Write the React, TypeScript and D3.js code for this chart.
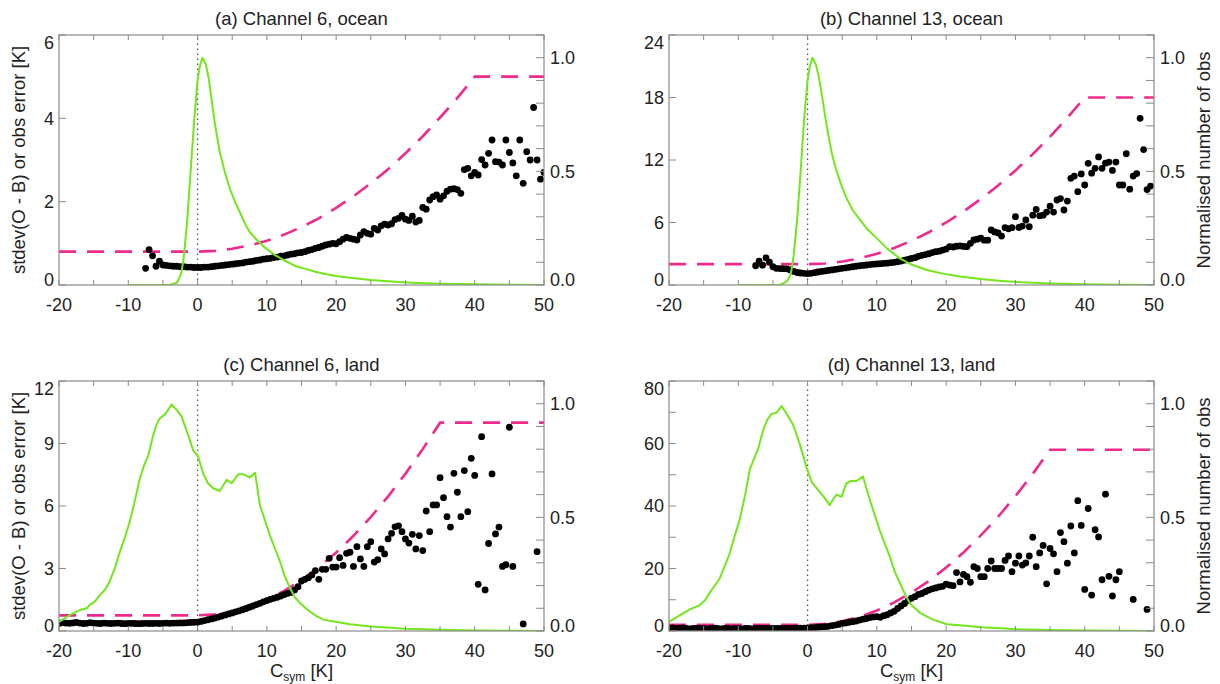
import React from 'react';
import * as d3 from 'd3';

// ---------- Data ----------
const xMajorTicks = [-20, -10, 0, 10, 20, 30, 40, 50];
const xMinorTicks = [-20, -15, -10, -5, 0, 5, 10, 15, 20, 25, 30, 35, 40, 45, 50];
const rightTicks = [0, 0.1, 0.2, 0.3, 0.4, 0.5, 0.6, 0.7, 0.8, 0.9, 1.0, 1.1];
const rightTickLabels = [0, 0.5, 1.0];

const panelTitles = ['(a) Channel 6, ocean', '(b) Channel 13, ocean', '(c) Channel 6, land', '(d) Channel 13, land'];
const yMaxes = [6, 24, 12, 80];
const yTicksA = [0, 2, 4, 6];
const yTicksB = [0, 6, 12, 18, 24];
const yTicksC = [0, 3, 6, 9, 12];
const yTicksD = [0, 20, 40, 60, 80];
const yMinorD = [10, 30, 50, 70];

// observation error (pink dashed)
const errA: [number, number][] = [[-20, 0.8], [0, 0.8], [2.5, 0.82], [5, 0.87], [7.5, 0.95], [10, 1.06], [12.5, 1.21], [15, 1.39], [17.5, 1.6], [20, 1.85], [22.5, 2.13], [25, 2.44], [27.5, 2.78], [30, 3.16], [32.5, 3.57], [35, 4.02], [37.5, 4.49], [40, 5.0], [50, 5.0]];
const errB: [number, number][] = [[-20, 2], [0, 2], [2.5, 2.06], [5, 2.25], [7.5, 2.56], [10, 3.0], [12.5, 3.56], [15, 4.25], [17.5, 5.06], [20, 6.0], [22.5, 7.06], [25, 8.25], [27.5, 9.56], [30, 11.0], [32.5, 12.56], [35, 14.25], [37.5, 16.06], [40, 18], [50, 18]];
const errC: [number, number][] = [[-20, 0.75], [0, 0.75], [2.5, 0.8], [5, 0.94], [7.5, 1.17], [10, 1.5], [12.5, 1.93], [15, 2.45], [17.5, 3.06], [20, 3.77], [22.5, 4.57], [25, 5.47], [27.5, 6.46], [30, 7.55], [32.5, 8.73], [35, 10], [50, 10]];
const errD: [number, number][] = [[-20, 2], [0, 2], [2.5, 2.29], [5, 3.14], [7.5, 4.57], [10, 6.57], [12.5, 9.14], [15, 12.29], [17.5, 16.0], [20, 20.29], [22.5, 25.14], [25, 30.57], [27.5, 36.57], [30, 43.14], [32.5, 50.29], [35, 58], [50, 58]];

// normalised number of obs (green)
const greenA: [number, number][] = [[-10, 0], [-4, 0], [-3, 0.01], [-2.5, 0.04], [-2.3, 0.06], [-2, 0.12], [-1.5, 0.28], [-1, 0.5], [-0.5, 0.72], [0, 0.9], [0.3, 0.96], [0.7, 1.0], [1.2, 0.97], [1.6, 0.91], [2, 0.82], [2.5, 0.71], [3.2, 0.585], [4, 0.49], [4.7, 0.42], [5.5, 0.36], [6.1, 0.32], [7, 0.26], [7.6, 0.23], [8.5, 0.2], [9.5, 0.17], [11, 0.135], [12.4, 0.11], [14, 0.085], [15.3, 0.073], [17, 0.058], [18.6, 0.047], [20, 0.04], [22, 0.032], [25, 0.022], [28, 0.015], [31, 0.01], [35, 0.006], [40, 0.003], [45, 0.001], [50, 0]];
const greenB: [number, number][] = [[-10, 0], [-4, 0], [-3, 0.015], [-2.5, 0.04], [-2.3, 0.07], [-2, 0.13], [-1.5, 0.29], [-1, 0.5], [-0.5, 0.73], [0, 0.9], [0.3, 0.96], [0.7, 1.0], [1.2, 0.97], [1.6, 0.92], [2, 0.85], [2.5, 0.75], [3, 0.66], [3.5, 0.58], [4, 0.52], [4.7, 0.455], [5.5, 0.39], [6.5, 0.33], [7.5, 0.29], [8.5, 0.25], [10, 0.205], [11.5, 0.16], [13.3, 0.117], [15, 0.09], [17.2, 0.066], [19.5, 0.05], [22, 0.037], [25, 0.026], [28, 0.018], [31, 0.012], [35, 0.007], [40, 0.003], [45, 0.001], [50, 0]];
const greenC: [number, number][] = [[-20, 0.04], [-18.45, 0.07], [-17, 0.092], [-16, 0.1], [-15.6, 0.114], [-14.8, 0.13], [-14.1, 0.158], [-13.3, 0.185], [-12.7, 0.217], [-11.9, 0.28], [-11.2, 0.35], [-10.5, 0.41], [-9.8, 0.48], [-9.0, 0.58], [-8.35, 0.67], [-7.7, 0.73], [-7.1, 0.774], [-6.4, 0.862], [-5.9, 0.91], [-5.45, 0.936], [-4.7, 0.953], [-4.2, 0.975], [-3.75, 0.997], [-3.0, 0.972], [-2.3, 0.943], [-1.8, 0.9], [-1.35, 0.862], [-0.64, 0.796], [0.09, 0.767], [0.8, 0.694], [1.5, 0.65], [2.25, 0.628], [3.2, 0.616], [3.7, 0.64], [4.2, 0.665], [4.9, 0.65], [5.9, 0.69], [6.6, 0.69], [7.55, 0.675], [8.3, 0.696], [9.0, 0.554], [9.7, 0.49], [10.45, 0.42], [11.2, 0.36], [11.9, 0.305], [12.6, 0.24], [13.35, 0.188], [14.0, 0.15], [14.8, 0.122], [16.2, 0.085], [17.2, 0.065], [18.15, 0.05], [20.1, 0.04], [22, 0.03], [25, 0.02], [28, 0.014], [30, 0.01], [35, 0.005], [40, 0.002], [45, 0.001], [50, 0]];
const greenD: [number, number][] = [[-20, 0.04], [-18.4, 0.07], [-17, 0.095], [-15.6, 0.113], [-14.8, 0.135], [-14.1, 0.17], [-13.4, 0.2], [-12.7, 0.23], [-11.9, 0.29], [-11.2, 0.345], [-10.5, 0.42], [-9.8, 0.49], [-9.0, 0.6], [-8.35, 0.71], [-7.7, 0.76], [-7.15, 0.8], [-6.4, 0.885], [-5.8, 0.93], [-5.2, 0.955], [-4.5, 0.96], [-3.75, 0.99], [-3.0, 0.955], [-2.05, 0.905], [-1.1, 0.82], [-0.15, 0.72], [0.6, 0.655], [1.8, 0.61], [2.6, 0.58], [3.2, 0.553], [3.7, 0.58], [4.2, 0.6], [4.9, 0.59], [5.6, 0.65], [6.3, 0.66], [7.05, 0.66], [8.0, 0.68], [9.0, 0.575], [9.7, 0.51], [10.45, 0.44], [11.2, 0.38], [11.9, 0.325], [12.6, 0.26], [13.35, 0.21], [14.1, 0.16], [14.8, 0.12], [16.2, 0.08], [18.1, 0.05], [20.1, 0.03], [22, 0.025], [25, 0.017], [28, 0.012], [30, 0.008], [35, 0.004], [40, 0.002], [45, 0.001], [50, 0]];

// stdev(O-B) (black dots)
const dotsA: [number, number][] = [[-7.5, 0.40], [-7, 0.85], [-6.5, 0.70], [-6, 0.45], [-5.5, 0.57], [-5, 0.48], [-4.5, 0.47], [-4, 0.46], [-3.5, 0.45], [-3, 0.45], [-2.5, 0.44], [-2, 0.44], [-1.5, 0.43], [-1, 0.43], [-0.5, 0.42], [0, 0.42], [0.5, 0.42], [1, 0.43], [1.5, 0.43], [2, 0.44], [2.5, 0.45], [3, 0.46], [3.5, 0.47], [4, 0.48], [4.5, 0.49], [5, 0.50], [5.5, 0.51], [6, 0.52], [6.5, 0.53], [7, 0.55], [7.5, 0.56], [8, 0.57], [8.5, 0.59], [9, 0.60], [9.5, 0.62], [10, 0.63], [10.5, 0.64], [11, 0.66], [11.5, 0.67], [12, 0.69], [12.5, 0.70], [13, 0.72], [13.5, 0.74], [14, 0.75], [14.5, 0.77], [15, 0.78], [15.5, 0.80], [16, 0.83], [16.5, 0.85], [17, 0.88], [17.5, 0.90], [18, 0.93], [18.5, 0.96], [19, 0.98], [19.5, 1.00], [20, 0.99], [20.5, 1.04], [21, 1.10], [21.5, 1.14], [22, 1.12], [22.5, 1.10], [23, 1.08], [23.5, 1.20], [24, 1.28], [24.5, 1.24], [25, 1.22], [25.5, 1.36], [26, 1.32], [26.5, 1.42], [27, 1.46], [27.5, 1.44], [28, 1.47], [28.5, 1.57], [29, 1.60], [29.5, 1.67], [30, 1.58], [30.5, 1.55], [31, 1.65], [31.5, 1.51], [32, 1.55], [32.5, 1.86], [33, 1.82], [33.5, 2.04], [34, 2.12], [34.5, 2.16], [35, 2.06], [35.5, 2.14], [36, 2.25], [36.5, 2.30], [37, 2.31], [37.5, 2.29], [38, 2.20], [38.5, 2.77], [39, 2.80], [39.5, 2.62], [40, 2.70], [40.5, 2.64], [41, 3.01], [41.5, 2.88], [42, 3.16], [42.5, 3.48], [43, 2.96], [43.5, 2.95], [44, 2.88], [44.5, 3.48], [45, 3.18], [45.5, 2.93], [46, 2.62], [46.5, 3.48], [47, 2.44], [47.5, 3.20], [48, 3.00], [48.5, 4.26], [49, 3.00], [49.5, 2.54], [50, 2.70]];
const dotsB: [number, number][] = [[-7.5, 1.85], [-7, 2.30], [-6.5, 1.90], [-6, 2.60], [-5.5, 2.20], [-5, 1.75], [-4.5, 1.60], [-4, 1.58], [-3.5, 1.57], [-3, 1.55], [-2.5, 1.45], [-2, 1.30], [-1.5, 1.20], [-1, 1.15], [-0.5, 1.12], [0, 1.10], [0.5, 1.12], [1, 1.18], [1.5, 1.25], [2, 1.30], [2.5, 1.35], [3, 1.40], [3.5, 1.45], [4, 1.50], [4.5, 1.55], [5, 1.60], [5.5, 1.65], [6, 1.70], [6.5, 1.75], [7, 1.80], [7.5, 1.85], [8, 1.88], [8.5, 1.92], [9, 1.96], [9.5, 2.00], [10, 2.02], [10.5, 2.05], [11, 2.08], [11.5, 2.10], [12, 2.14], [12.5, 2.18], [13, 2.23], [13.5, 2.30], [14, 2.38], [14.5, 2.45], [15, 2.55], [15.5, 2.62], [16, 2.75], [16.5, 2.85], [17, 2.92], [17.5, 3.00], [18, 3.10], [18.5, 3.20], [19, 3.25], [19.5, 3.35], [20, 3.45], [20.5, 3.68], [21, 3.65], [21.5, 3.72], [22, 3.75], [22.5, 3.70], [23, 3.68], [23.5, 4.00], [24, 4.32], [24.5, 4.40], [25, 4.50], [25.5, 4.30], [26, 4.30], [26.5, 5.28], [27, 5.10], [27.5, 5.00], [28, 4.70], [28.5, 5.50], [29, 5.40], [29.5, 5.50], [30, 6.56], [30.5, 5.52], [31, 5.66], [31.5, 6.24], [32, 5.60], [32.5, 6.70], [33, 7.26], [33.5, 6.64], [34, 6.70], [34.5, 7.00], [35, 7.56], [35.5, 7.00], [36, 8.16], [36.5, 8.30], [37, 7.20], [37.5, 8.06], [38, 10.24], [38.5, 10.46], [39, 8.96], [39.5, 10.66], [40, 9.60], [40.5, 11.68], [41, 10.74], [41.5, 11.20], [42, 12.30], [42.5, 11.20], [43, 11.70], [43.5, 11.80], [44, 11.00], [44.5, 11.80], [45, 9.60], [45.5, 9.60], [46, 12.60], [46.5, 9.20], [47, 10.46], [47.5, 10.70], [48, 16.00], [48.5, 13.00], [49, 9.16], [49.5, 9.50]];
const dotsC: [number, number][] = [[-20, 0.36], [-19.5, 0.40], [-19, 0.38], [-18.5, 0.37], [-18, 0.39], [-17.5, 0.41], [-17, 0.38], [-16.5, 0.36], [-16, 0.37], [-15.5, 0.40], [-15, 0.38], [-14.5, 0.37], [-14, 0.36], [-13.5, 0.38], [-13, 0.37], [-12.5, 0.36], [-12, 0.37], [-11.5, 0.38], [-11, 0.36], [-10.5, 0.35], [-10, 0.36], [-9.5, 0.37], [-9, 0.36], [-8.5, 0.35], [-8, 0.36], [-7.5, 0.37], [-7, 0.36], [-6.5, 0.36], [-6, 0.37], [-5.5, 0.36], [-5, 0.37], [-4.5, 0.38], [-4, 0.37], [-3.5, 0.38], [-3, 0.38], [-2.5, 0.39], [-2, 0.39], [-1.5, 0.40], [-1, 0.41], [-0.5, 0.42], [0, 0.43], [0.5, 0.46], [1, 0.50], [1.5, 0.54], [2, 0.58], [2.5, 0.62], [3, 0.67], [3.5, 0.72], [4, 0.77], [4.5, 0.82], [5, 0.87], [5.5, 0.92], [6, 0.97], [6.5, 1.02], [7, 1.08], [7.5, 1.14], [8, 1.20], [8.5, 1.27], [9, 1.33], [9.5, 1.40], [10, 1.46], [10.5, 1.52], [11, 1.57], [11.5, 1.62], [12, 1.68], [12.5, 1.75], [13, 1.81], [13.5, 1.85], [14, 1.97], [14.5, 2.13], [15, 2.40], [15.5, 2.48], [16, 2.56], [16.5, 2.69], [17, 2.90], [17.5, 2.48], [18, 2.96], [18.5, 2.96], [19, 3.49], [19.5, 3.07], [20, 3.07], [20.5, 3.52], [21, 3.15], [21.5, 3.73], [22, 3.78], [22.5, 3.10], [23, 4.05], [23.5, 3.46], [24, 3.10], [24.5, 4.05], [25, 4.29], [25.5, 3.31], [26, 3.42], [26.5, 3.94], [27, 3.70], [27.5, 4.42], [28, 4.69], [28.5, 5.00], [29, 5.05], [29.5, 4.77], [30, 4.42], [30.5, 4.22], [31, 4.64], [31.5, 3.94], [32, 4.58], [32.5, 3.86], [33, 5.76], [33.5, 4.77], [34, 6.05], [34.5, 6.05], [35, 7.36], [35.5, 6.40], [36, 5.49], [36.5, 4.99], [37, 7.57], [37.5, 6.66], [38, 5.49], [38.5, 7.70], [39, 5.73], [39.5, 8.29], [40, 7.47], [40.5, 2.24], [41, 9.33], [41.5, 1.97], [42, 4.20], [42.5, 7.54], [43, 4.66], [43.5, 4.99], [44, 3.10], [44.5, 3.18], [45, 9.78], [45.5, 3.10], [47, 0.34], [49, 3.81]];
const dotsD: [number, number][] = [[-20, 0.9], [-19.5, 1.0], [-19, 0.8], [-18.5, 0.9], [-18, 1.0], [-17.5, 0.8], [-17, 0.7], [-16.5, 0.8], [-16, 0.9], [-15.5, 0.8], [-15, 0.8], [-14.5, 0.7], [-14, 0.8], [-13.5, 0.9], [-13, 0.8], [-12.5, 0.7], [-12, 0.8], [-11.5, 0.8], [-11, 0.7], [-10.5, 0.8], [-10, 0.8], [-9.5, 0.7], [-9, 0.8], [-8.5, 0.8], [-8, 0.7], [-7.5, 0.8], [-7, 0.8], [-6.5, 0.8], [-6, 0.8], [-5.5, 0.8], [-5, 0.8], [-4.5, 0.8], [-4, 0.8], [-3.5, 0.8], [-3, 0.85], [-2.5, 0.85], [-2, 0.9], [-1.5, 0.9], [-1, 0.95], [-0.5, 0.95], [0, 1.0], [0.5, 1.05], [1, 1.1], [1.5, 1.2], [2, 1.3], [2.5, 1.4], [3, 1.5], [3.5, 1.7], [4, 1.9], [4.5, 2.1], [5, 2.4], [5.5, 2.6], [6, 2.8], [6.5, 3.0], [7, 3.2], [7.5, 3.5], [8, 3.8], [8.5, 4.0], [9, 4.3], [9.5, 4.5], [10, 4.6], [10.5, 4.4], [11, 4.9], [11.5, 5.2], [12, 5.8], [12.5, 6.3], [13, 7.2], [13.5, 8.0], [14, 8.8], [14.5, 9.7], [15, 10.5], [15.5, 11.0], [16, 11.7], [16.5, 12.0], [17, 12.6], [17.5, 13.1], [18, 13.5], [18.5, 13.8], [19, 14.1], [19.5, 14.3], [20, 15.0], [20.5, 14.7], [21, 14.5], [21.5, 18.7], [22, 15.7], [22.5, 18.1], [23, 17.4], [23.5, 15.6], [24, 20.6], [24.5, 20.0], [25, 17.4], [25.5, 17.4], [26, 20.0], [26.5, 22.4], [27, 20.0], [27.5, 20.0], [28, 20.0], [28.5, 22.6], [29, 24.0], [29.5, 19.0], [30, 21.7], [30.5, 24.0], [31, 21.1], [31.5, 21.8], [32, 24.0], [32.5, 30.0], [33, 20.6], [33.5, 25.0], [34, 27.4], [34.5, 15.1], [35, 26.4], [35.5, 24.7], [36, 19.0], [36.5, 31.5], [37, 28.6], [37.5, 21.7], [38, 33.6], [38.5, 25.0], [39, 41.7], [39.5, 33.8], [40, 13.3], [40.5, 39.2], [41, 11.5], [41.5, 32.4], [42, 30.1], [42.5, 16.4], [43, 43.8], [43.5, 17.5], [44, 11.2], [44.5, 16.4], [45, 19.0], [47, 10.1], [49, 6.9]];

// ---------- Style ----------
const FONT = "'Liberation Sans', Arial, Helvetica, sans-serif";
const TEXT = '#222';
const FRAME = '#8a8a8a';
const PINK = '#ef2a8c';
const GREEN = '#74e61c';

type Cfg = {
  key: string; title: string; left: number; right: number; top: number; bottom: number;
  yMax: number; yTicks: number[]; yMinor: number[];
  dots: [number, number][]; green: [number, number][]; err: [number, number][];
  leftTitle: boolean; rightTitle: boolean; xTitle: boolean;
};

const panels: Cfg[] = [
  { key: 'a', title: panelTitles[0], left: 59, right: 544, top: 35, bottom: 285, yMax: yMaxes[0], yTicks: yTicksA, yMinor: [], dots: dotsA, green: greenA, err: errA, leftTitle: true, rightTitle: false, xTitle: false },
  { key: 'b', title: panelTitles[1], left: 669, right: 1154, top: 35, bottom: 285, yMax: yMaxes[1], yTicks: yTicksB, yMinor: [], dots: dotsB, green: greenB, err: errB, leftTitle: false, rightTitle: true, xTitle: false },
  { key: 'c', title: panelTitles[2], left: 59, right: 544, top: 381, bottom: 631, yMax: yMaxes[2], yTicks: yTicksC, yMinor: [], dots: dotsC, green: greenC, err: errC, leftTitle: true, rightTitle: false, xTitle: true },
  { key: 'd', title: panelTitles[3], left: 669, right: 1154, top: 381, bottom: 631, yMax: yMaxes[3], yTicks: yTicksD, yMinor: yMinorD, dots: dotsD, green: greenD, err: errD, leftTitle: false, rightTitle: true, xTitle: true },
];

function Panel({ c }: { c: Cfg }) {
  const x = d3.scaleLinear().domain([-20, 50]).range([c.left, c.right]);
  const y = d3.scaleLinear().domain([0, c.yMax]).range([c.bottom, c.top]);
  const r = d3.scaleLinear().domain([0, 1.1]).range([c.bottom, c.top]);
  const errPath = d3.line<[number, number]>().x(d => x(d[0])).y(d => y(d[1]))(c.err) || '';
  const greenPath = d3.line<[number, number]>().x(d => x(d[0])).y(d => r(d[1]))(c.green) || '';
  const cx = (c.left + c.right) / 2;
  const cy = (c.top + c.bottom) / 2;
  const clipId = 'clip-' + c.key;
  const yLabelY = (v: number) => {
    let p = y(v);
    if (v === 0) p -= 5;
    else if (v === c.yMax) p += 8;
    return p;
  };
  const rLabelY = (v: number) => (v === 0 ? r(v) - 5 : r(v));
  return (
    <g>
      <defs>
        <clipPath id={clipId}>
          <rect x={c.left} y={c.top} width={c.right - c.left} height={c.bottom - c.top} />
        </clipPath>
      </defs>
      <text x={cx} y={c.top - 10} textAnchor="middle" fontSize={18.5} fill={TEXT}>{c.title}</text>

      <line x1={x(0)} x2={x(0)} y1={c.bottom} y2={c.top} stroke="#555" strokeWidth={1.3} strokeDasharray="1.5,3.5" />

      <g clipPath={`url(#${clipId})`}>
        <path d={errPath} fill="none" stroke={PINK} strokeWidth={2.6} strokeDasharray="17,11" />
        {c.dots.map((d, i) => (
          <circle key={i} cx={x(d[0])} cy={y(d[1])} r={3.4} fill="#000" />
        ))}
        <path d={greenPath} fill="none" stroke={GREEN} strokeWidth={2} strokeLinejoin="round" />
      </g>

      <rect x={c.left} y={c.top} width={c.right - c.left} height={c.bottom - c.top} fill="none" stroke={FRAME} strokeWidth={1.2} />

      {xMinorTicks.map(t => (
        <g key={'xt' + t}>
          <line x1={x(t)} x2={x(t)} y1={c.bottom} y2={c.bottom - 5} stroke={FRAME} strokeWidth={1} />
          <line x1={x(t)} x2={x(t)} y1={c.top} y2={c.top + 5} stroke={FRAME} strokeWidth={1} />
        </g>
      ))}
      {xMajorTicks.map(t => (
        <text key={'xl' + t} x={x(t)} y={c.bottom + 26} textAnchor="middle" fontSize={18} fill={TEXT}>{t}</text>
      ))}

      {c.yTicks.concat(c.yMinor).map(t => (
        <line key={'yt' + t} x1={c.left} x2={c.left + 7} y1={y(t)} y2={y(t)} stroke={FRAME} strokeWidth={1} />
      ))}
      {c.yTicks.map(t => (
        <text key={'yl' + t} x={c.left - 5} y={yLabelY(t)} dy="0.36em" textAnchor="end" fontSize={18} fill={TEXT}>{t}</text>
      ))}

      {rightTicks.map(t => (
        <line key={'rt' + t} x1={c.right} x2={c.right - 8} y1={r(t)} y2={r(t)} stroke={FRAME} strokeWidth={1} />
      ))}
      {rightTickLabels.map(t => (
        <text key={'rl' + t} x={c.right + 6} y={rLabelY(t)} dy="0.36em" textAnchor="start" fontSize={18} fill={TEXT}>{t.toFixed(1)}</text>
      ))}

      {c.leftTitle && (
        <text x={25} y={cy} transform={`rotate(-90, 25, ${cy})`} textAnchor="middle" fontSize={18.5} fill={TEXT}>stdev(O - B) or obs error [K]</text>
      )}
      {c.rightTitle && (
        <text x={1210} y={cy} transform={`rotate(-90, 1210, ${cy})`} textAnchor="middle" fontSize={18.5} fill={TEXT}>Normalised number of obs</text>
      )}
      {c.xTitle && (
        <text x={cx} y={677} textAnchor="middle" fontSize={18.5} fill={TEXT}>
          C<tspan fontSize={12} dy={4}>sym</tspan><tspan dy={-4}> [K]</tspan>
        </text>
      )}
    </g>
  );
}

export default function App() {
  return (
    <div style={{ position: 'absolute', left: 0, top: 0 }}>
      <svg width={1220} height={684} viewBox="0 0 1220 684" style={{ display: 'block', background: '#fff', fontFamily: FONT }}>
        <rect x={0} y={0} width={1220} height={684} fill="#fff" />
        {panels.map(p => <Panel key={p.key} c={p} />)}
      </svg>
    </div>
  );
}
